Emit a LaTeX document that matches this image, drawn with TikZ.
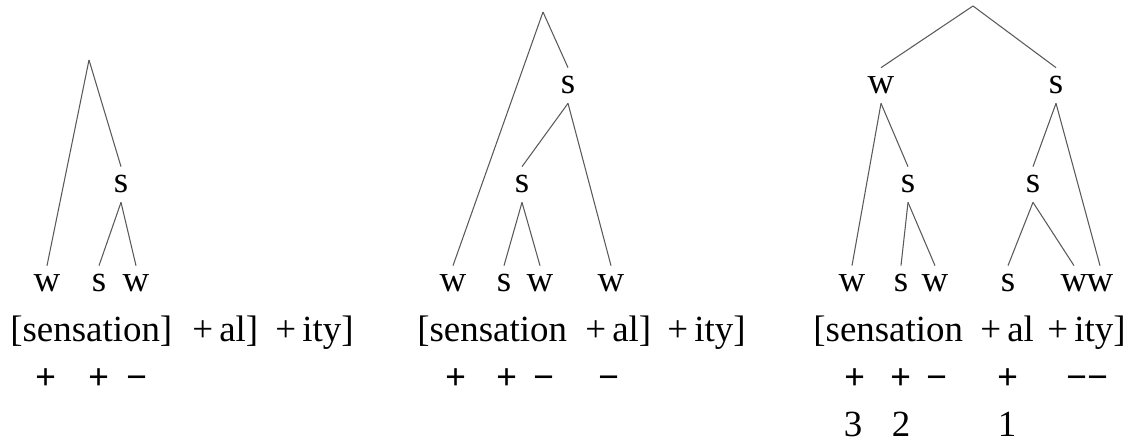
\documentclass[tikz,border=0pt]{standalone}
\usepackage{fontspec}
\setmainfont{Liberation Serif}
\usetikzlibrary{positioning}

\begin{document}
\begin{tikzpicture}[x=0.02cm, y=-0.02cm,
    lbl/.style={anchor=base, inner xsep=0pt, inner ysep=0.18cm, text height=0.34cm, text depth=0pt, font=\fontsize{21}{25}\selectfont},
    seg/.style={anchor=base west, inner sep=0pt, font=\fontsize{21}{25}\selectfont},
    sgn/.style={anchor=base, inner sep=0pt, font=\fontsize{21}{25}\selectfont\bfseries},
    num/.style={anchor=base, inner sep=0pt, font=\fontsize{21}{25}\selectfont},
    branch/.style={draw=black!65, line width=0.6pt}
]
    \useasboundingbox (0,0) rectangle (1129,445);

    \coordinate (top1) at (89,60);
    \node[lbl] (s1) at (121,193) {s};
    \node[lbl] (w1a) at (47,292) {w};
    \node[lbl] (s1a) at (99,292) {s};
    \node[lbl] (w1b) at (136,292) {w};

    \draw[branch] (top1) -- (w1a.north);
    \draw[branch] (top1) -- (s1.north);
    \draw[branch] (s1.south) -- (s1a.north);
    \draw[branch] (s1.south) -- (w1b.north);

    \node[seg] (b1a) at (10,342) {[sensation]};
    \node[seg] (b1b) at (192,342) {+\,al]};
    \node[seg] (b1c) at (275,342) {+\,ity]};
    \node[sgn] (p1a) at (46,390) {+};
    \node[sgn] (p1b) at (99,390) {+};
    \node[sgn] (m1a) at (137,390) {−};

    \coordinate (top2) at (543,12);
    \node[lbl] (s2) at (568,94) {s};
    \node[lbl] (s2i) at (522,193) {s};
    \node[lbl] (w2a) at (453,292) {w};
    \node[lbl] (s2a) at (504,292) {s};
    \node[lbl] (w2b) at (540,292) {w};
    \node[lbl] (w2c) at (611,292) {w};

    \draw[branch] (top2) -- (w2a.north);
    \draw[branch] (top2) -- (s2.north);
    \draw[branch] (s2.south) -- (s2i.north);
    \draw[branch] (s2.south) -- (w2c.north);
    \draw[branch] (s2i.south) -- (s2a.north);
    \draw[branch] (s2i.south) -- (w2b.north);

    \node[seg] (b2a) at (417,342) {[sensation};
    \node[seg] (b2b) at (585,342) {+\,al]};
    \node[seg] (b2c) at (667,342) {+\,ity]};
    \node[sgn] (p2a) at (456,390) {+};
    \node[sgn] (p2b) at (507,390) {+};
    \node[sgn] (m2a) at (544,390) {−};
    \node[sgn] (m2b) at (609,390) {−};

    \coordinate (top3) at (973,6);
    \node[lbl] (w3) at (881,94) {w};
    \node[lbl] (s3) at (1056,94) {s};
    \node[lbl] (s3i) at (908,193) {s};
    \node[lbl] (s3j) at (1033,193) {s};
    \node[lbl] (w3a) at (852,292) {w};
    \node[lbl] (s3a) at (901,292) {s};
    \node[lbl] (w3b) at (935,292) {w};
    \node[lbl] (s3b) at (1008,292) {s};
    \node[lbl] (w3c) at (1074,292) {w};
    \node[lbl] (w3d) at (1100,292) {w};

    \draw[branch] (top3) -- (w3.north);
    \draw[branch] (top3) -- (s3.north);
    \draw[branch] (w3.south) -- (w3a.north);
    \draw[branch] (w3.south) -- (s3i.north);
    \draw[branch] (s3i.south) -- (s3a.north);
    \draw[branch] (s3i.south) -- (w3b.north);
    \draw[branch] (s3.south) -- (s3j.north);
    \draw[branch] (s3.south) -- (w3d.north);
    \draw[branch] (s3j.south) -- (s3b.north);
    \draw[branch] (s3j.south) -- (w3c.north);

    \node[seg] (b3a) at (813,342) {[sensation};
    \node[seg] (b3b) at (980,342) {+\,al};
    \node[seg] (b3c) at (1047,342) {+\,ity]};
    \node[sgn] (p3a) at (855,390) {+};
    \node[sgn] (p3b) at (901,390) {+};
    \node[sgn] (m3a) at (937,390) {−};
    \node[sgn] (p3c) at (1008,390) {+};
    \node[sgn] (m3b) at (1077,390) {−};
    \node[sgn] (m3c) at (1098,390) {−};
    \node[num] (n3a) at (853,437) {3};
    \node[num] (n3b) at (901,437) {2};
    \node[num] (n3c) at (1007,437) {1};
\end{tikzpicture}
\end{document}
